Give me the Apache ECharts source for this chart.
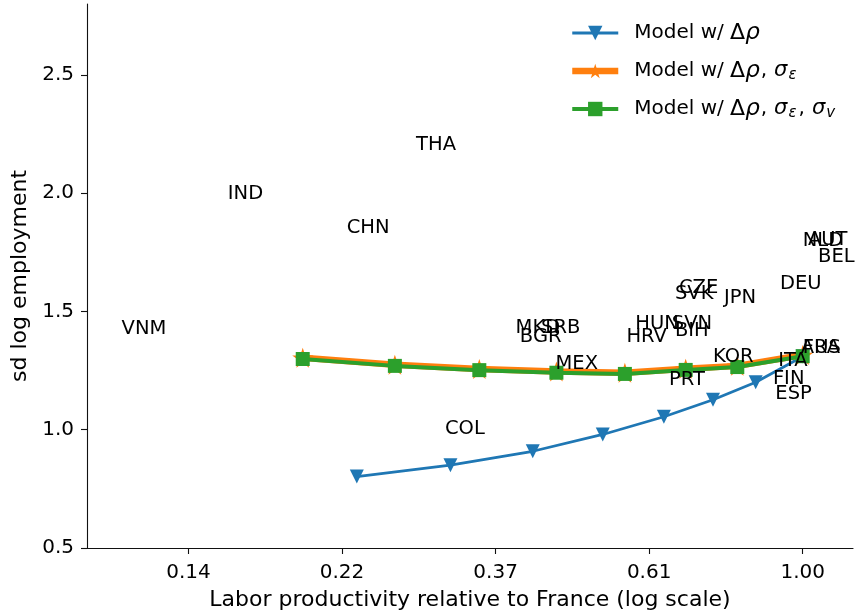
<!DOCTYPE html>
<html><head><meta charset="utf-8">
<script src="https://cdn.jsdelivr.net/npm/echarts@6/dist/echarts.min.js"></script>
<style>html,body{margin:0;padding:0;background:#fff}#c{width:857px;height:616px}</style>
</head><body><div id="c"></div><script>
// x values are natural logs of labor productivity relative to France
const xTicks = [-2, -1.5, -1, -0.5, 0];
const yTicks = [0.5, 1.0, 1.5, 2.0, 2.5];

const seriesNames = ['Model w/ Δρ', 'Model w/ Δρ, σε', 'Model w/ Δρ, σε, σv'];

const modelRhoX = [-1.452, -1.147, -0.879, -0.651, -0.452, -0.292, -0.153, 0];
const modelRhoY = [0.802, 0.850, 0.909, 0.980, 1.055, 1.127, 1.201, 1.310];

const modelGridX = [-1.628, -1.328, -1.053, -0.802, -0.579, -0.381, -0.213, 0];
const modelEpsY = [1.304, 1.275, 1.257, 1.246, 1.241, 1.258, 1.270, 1.316];
const modelNuY  = [1.299, 1.270, 1.252, 1.241, 1.236, 1.253, 1.265, 1.311];

const countries = ['VNM','IND','CHN','THA','COL','MKD','SRB','BGR','MEX','HUN','SVN','BIH','HRV','CZE','SVK','JPN','DEU','AUT','NLD','BEL','KOR','PRT','ITA','AUS','FRA','FIN','ESP'];
const countryLogProd = [-2.218,-1.872,-1.485,-1.259,-1.165,-0.935,-0.852,-0.921,-0.805,-0.545,-0.426,-0.416,-0.574,-0.403,-0.416,-0.256,-0.074,0.017,0.000,0.050,-0.292,-0.435,-0.080,-0.006,0.000,-0.097,-0.089];
const countrySd = [1.399,1.970,1.827,2.179,0.977,1.403,1.403,1.369,1.252,1.422,1.422,1.394,1.368,1.575,1.550,1.532,1.591,1.778,1.773,1.706,1.281,1.184,1.266,1.322,1.319,1.188,1.125];

const FONT = 'DejaVu Sans';
const COLORS = ['#1f77b4', '#ff7f0e', '#2ca02c'];
const WIDTHS = [2.8, 6.5, 4];
const zip = (xs, ys) => xs.map((x, i) => [x, ys[i]]);
const starPath = 'path://M0,-1L0.2245,-0.309L0.9511,-0.309L0.3633,0.118L0.5878,0.809L0,0.382L-0.5878,0.809L-0.3633,0.118L-0.9511,-0.309L-0.2245,-0.309Z';

const legendRich = {
  [seriesNames[0]]: 'Model w/ {D|Δ}{r|ρ}',
  [seriesNames[1]]: 'Model w/ {D|Δ}{r|ρ}{c|,}{s|σ}{sub|ε}',
  [seriesNames[2]]: 'Model w/ {D|Δ}{r|ρ}{c|,}{s|σ}{sub|ε}{c|,}{s|σ}{sub|v}'
};

const chart = echarts.init(document.getElementById('c'), null, {renderer: 'canvas'});
const axisColor = '#111';
chart.setOption({
  animation: false,
  backgroundColor: '#fff',
  textStyle: {fontFamily: FONT},
  grid: {left: 87, right: 4, top: 4, bottom: 68, containLabel: false},
  legend: {
    data: seriesNames.map((n, i) => ({name: n, lineStyle: {width: WIDTHS[i], color: COLORS[i]}, itemStyle: {color: COLORS[i]}})),
    orient: 'vertical',
    left: 569, top: 21,
    padding: 0,
    itemWidth: 46, itemHeight: 18, itemGap: 12,
    selectedMode: false,
    formatter: name => legendRich[name],
    textStyle: {
      fontFamily: FONT, fontSize: 20, color: '#000', lineHeight: 24, padding: [0, 0, 0, 11],
      rich: {
        D: {fontFamily: FONT, fontSize: 22, color: '#000', lineHeight: 24, padding: [0, 0, 0, 0]},
        r: {fontFamily: FONT, fontStyle: 'italic', fontSize: 23, color: '#000', lineHeight: 24, padding: [0, 1, 0, 0]},
        c: {fontFamily: FONT, fontSize: 20, color: '#000', lineHeight: 24, padding: [0, 6, 0, 0]},
        s: {fontFamily: FONT, fontStyle: 'italic', fontSize: 21, color: '#000', lineHeight: 24, padding: [0, 1, 0, 1]},
        sub: {fontFamily: FONT, fontStyle: 'italic', fontSize: 15, color: '#000', lineHeight: 13, padding: [11, 2, 0, 0], verticalAlign: 'bottom'}
      }
    }
  },
  xAxis: {
    type: 'value', min: -2.3305, max: 0.1638,
    axisLine: {show: true, onZero: false, lineStyle: {color: axisColor, width: 1.1}},
    axisTick: {show: true, length: 6, customValues: xTicks, lineStyle: {color: axisColor, width: 1.1}},
    axisLabel: {customValues: xTicks, formatter: v => Math.exp(v).toFixed(2), fontSize: 20, color: '#000', margin: 15, fontFamily: FONT},
    splitLine: {show: false},
    name: 'Labor productivity relative to France (log scale)',
    nameLocation: 'middle', nameGap: 41,
    nameTextStyle: {fontSize: 22, color: '#000', fontFamily: FONT}
  },
  yAxis: {
    type: 'value', min: 0.5, max: 2.8,
    axisLine: {show: true, onZero: false, lineStyle: {color: axisColor, width: 1.1}},
    axisTick: {show: true, length: 6, customValues: yTicks, lineStyle: {color: axisColor, width: 1.1}},
    axisLabel: {customValues: yTicks, formatter: v => v.toFixed(1), fontSize: 20, color: '#000', margin: 13, fontFamily: FONT},
    splitLine: {show: false},
    name: 'sd log employment',
    nameLocation: 'middle', nameGap: 48,
    nameTextStyle: {fontSize: 22, color: '#000', fontFamily: FONT}
  },
  series: [
    {
      name: seriesNames[0], type: 'line', data: zip(modelRhoX, modelRhoY),
      symbol: 'triangle', symbolRotate: 180, symbolSize: 14, showAllSymbol: true,
      lineStyle: {width: WIDTHS[0], color: COLORS[0]}, itemStyle: {color: COLORS[0]},
      emphasis: {disabled: true}, z: 2
    },
    {
      name: seriesNames[1], type: 'line', data: zip(modelGridX, modelEpsY),
      symbol: starPath, symbolSize: 21, symbolKeepAspect: true, showAllSymbol: true,
      lineStyle: {width: WIDTHS[1], color: COLORS[1]}, itemStyle: {color: COLORS[1]},
      emphasis: {disabled: true}, z: 3
    },
    {
      name: seriesNames[2], type: 'line', data: zip(modelGridX, modelNuY),
      symbol: 'rect', symbolSize: 14, showAllSymbol: true,
      lineStyle: {width: WIDTHS[2], color: COLORS[2]}, itemStyle: {color: COLORS[2]},
      emphasis: {disabled: true}, z: 4
    },
    {
      name: 'countries', type: 'custom',
      data: zip(countryLogProd, countrySd),
      encode: {x: 0, y: 1},
      clip: false, silent: true, z: 10,
      renderItem: (params, api) => {
        const p = api.coord([api.value(0), api.value(1)]);
        return {
          type: 'text', x: p[0], y: p[1] - 6,
          style: {text: countries[params.dataIndex], font: '19.5px "DejaVu Sans"', fill: '#000', align: 'left', verticalAlign: 'middle'}
        };
      }
    }
  ]
});
</script></body></html>
